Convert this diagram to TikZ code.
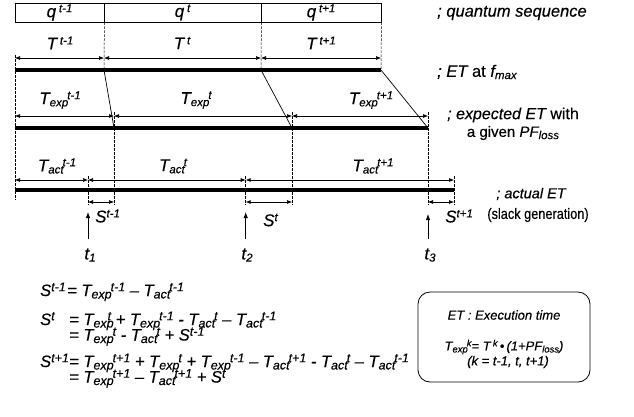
\documentclass[tikz,border=0pt]{standalone}
\usepackage{fontspec}
\setmainfont{Liberation Sans}[FakeBold=0.3]
\usetikzlibrary{arrows.meta}
\newcommand\spx[1]{\raisebox{5pt}{\fontsize{11.5}{11.5}\selectfont #1}}
\newcommand\sbx[1]{\raisebox{-2.2pt}{\fontsize{11.5}{11.5}\selectfont #1}}
\newcommand\esp[1]{\raisebox{4.8pt}{\fontsize{12.5}{12.5}\selectfont #1}}
\newcommand\esb[1]{\raisebox{-2.5pt}{\fontsize{12.5}{12.5}\selectfont #1}}
\newcommand\bsp[1]{\raisebox{4pt}{\fontsize{9.5}{9.5}\selectfont #1}}
\newcommand\bsb[1]{\raisebox{-2pt}{\fontsize{9.5}{9.5}\selectfont #1}}
\newcommand\Te[1]{T\esb{exp}\hspace{-1pt}\esp{#1}}
\newcommand\Ta[1]{T\esb{act}\hspace{-1pt}\esp{#1}}
\begin{document}
\begin{tikzpicture}[x=1pt,y=-1pt,
  dim/.style={{Latex[length=5pt,width=4pt]}-{Latex[length=5pt,width=4pt]}, line width=0.6pt},
  uparr/.style={-{Latex[length=6pt,width=4.5pt]}, line width=0.8pt},
  bar/.style={line width=4pt},
  guide/.style={dash pattern=on 2.5pt off 1.5pt, line width=0.5pt},
  slant/.style={line width=0.7pt},
  lab/.style={font=\fontsize{17}{20}\selectfont\itshape, inner sep=0pt},
  side/.style={inner sep=0pt},
  eq/.style={font=\fontsize{16.5}{18}\selectfont\itshape, inner sep=0pt, anchor=base west},
  qbox/.style={draw, line width=0.8pt, minimum height=19pt, inner sep=0pt, lab},
  defbox/.style={draw, line width=0.8pt, rounded corners=12pt, minimum width=172pt, minimum height=90pt},
  boxtxt/.style={font=\fontsize{13}{15}\selectfont\itshape, inner sep=0pt}
]
\useasboundingbox (0,0) rectangle (634,416);
% quantum sequence
\node[qbox, minimum width=89pt] (q1) at (59.5,12.5) {q\,\spx{t-1}};
\node[qbox, minimum width=157pt] (q2) at (182.5,12.5) {q\,\spx{t}};
\node[qbox, minimum width=120pt] (q3) at (321,12.5) {q\,\spx{t+1}};
% coordinates
\coordinate (T0) at (15,58); \coordinate (T1) at (104,58);
\coordinate (T2) at (261,58); \coordinate (T3) at (381,58);
\coordinate (B0) at (15,70); \coordinate (B1) at (104,70);
\coordinate (B2) at (261,70); \coordinate (B3) at (381,70);
\coordinate (E0) at (15,116); \coordinate (E1) at (114,116);
\coordinate (E2) at (292,116); \coordinate (E3) at (428,116);
\coordinate (F0) at (15,128); \coordinate (F1) at (114,128);
\coordinate (F2) at (292,128); \coordinate (F3) at (428,128);
\coordinate (A0) at (15,180); \coordinate (A1) at (88,180);
\coordinate (A2) at (245.7,180); \coordinate (A3) at (454,180);
\coordinate (G0) at (15,190); \coordinate (G3) at (454,190);
\coordinate (S1a) at (88,202); \coordinate (S1b) at (114,202);
\coordinate (S2a) at (245.7,202); \coordinate (S2b) at (292,202);
\coordinate (S3a) at (428,202); \coordinate (S3b) at (454,202);
% guides
\draw[guide] (15,55) -- (15,200);
\draw[guide] (q1.south east) -- (B1);
\draw[guide] (q2.south east) -- (B2);
\draw[guide] (q3.south east) -- (B3);
\foreach \x in {114,292,428} \draw[guide] (\x,112) -- (\x,205);
\foreach \x in {88,245.7,454} \draw[guide] (\x,176) -- (\x,205);
% T row
\draw[dim] (T0) -- (T1); \draw[dim] (T1) -- (T2); \draw[dim] (T2) -- (T3);
\draw[bar] (B0) -- (B3);
\node[lab] (LT1) at (60,43) {T\,\spx{t-1}};
\node[lab] (LT2) at (182,43) {T\,\spx{t}};
\node[lab] (LT3) at (321,43) {T\,\spx{t+1}};
% slants
\draw[slant] (B1) -- (F1); \draw[slant] (B2) -- (F2); \draw[slant] (B3) -- (F3);
% Texp row
\draw[dim] (E0) -- (E1); \draw[dim] (E1) -- (E2); \draw[dim] (E2) -- (E3);
\draw[bar] (F0) -- (F3);
\node[lab] (LE1) at (60,100) {T\sbx{exp}\hspace{-1pt}\spx{t-1}};
\node[lab] (LE2) at (196,100) {T\sbx{exp}\hspace{-1pt}\spx{t}};
\node[lab] (LE3) at (371,100) {T\sbx{exp}\hspace{-1pt}\spx{t+1}};
% Tact row
\draw[dim] (A0) -- (A1); \draw[dim] (A1) -- (A2); \draw[dim] (A2) -- (A3);
\draw[bar] (G0) -- (G3);
\node[lab] (LA1) at (57,166) {T\sbx{act}\hspace{-1pt}\spx{t-1}};
\node[lab] (LA2) at (173,166) {T\sbx{act}\hspace{-1pt}\spx{t}};
\node[lab] (LA3) at (373,166) {T\sbx{act}\hspace{-1pt}\spx{t+1}};
% slack arrows
\draw[dim] (S1a) -- (S1b); \draw[dim] (S2a) -- (S2b); \draw[dim] (S3a) -- (S3b);
\node[lab, anchor=west] (LS1) at (95,216) {S\spx{t-1}};
\node[lab, anchor=west] (LS2) at (263,220) {S\spx{t}};
\node[lab, anchor=west] (LS3) at (445,216) {S\spx{t+1}};
% time points
\coordinate (U1) at (88,239); \coordinate (U2) at (245.7,239); \coordinate (U3) at (428,239);
\draw[uparr] (U1) -- (88,212);
\draw[uparr] (U2) -- (245.7,212);
\draw[uparr] (U3) -- (428,214);
\node[lab] (t1) at (90,255) {t\sbx{1}};
\node[lab] (t2) at (247,255) {t\sbx{2}};
\node[lab] (t3) at (430,255) {t\sbx{3}};
% side labels
\node[side, anchor=west, font=\fontsize{16.5}{20}\selectfont] (s1) at (437,13) {\itshape ; quantum sequence};
\node[side, anchor=west, font=\fontsize{16.5}{20}\selectfont] (s2) at (437,72) {\itshape ; ET\upshape\ at \itshape f\sbx{max}};
\node[side, anchor=west, font=\fontsize{16}{19}\selectfont] (s3) at (447,115) {\itshape ; expected ET\upshape\ with};
\node[side, font=\fontsize{15}{18}\selectfont] (s4) at (513,133) {a given \itshape PF\sbx{loss}};
\node[side, font=\fontsize{14.5}{17}\selectfont] (s5) at (531,194) {\itshape ; actual ET};
\node[side, font=\fontsize{15}{18}\selectfont] (s6) at (538,215) {\scalebox{0.85}[1]{(slack generation)}};
% equations
\node[eq] (e1l) at (40,296) {S\esp{t-1}};
\node[eq] (e1r) at (67,296) {= \Te{t-1} – \Ta{t-1}};
\node[eq] (e2l) at (40,325) {S\esp{t}};
\node[eq] (e2r) at (69,325) {= T\esb{exp}\hspace{-6pt}\esp{t} + \Te{t-1} - \Ta{t} – \Ta{t-1}};
\node[eq] (e2s) at (69,340.5) {= \Te{t} - \Ta{t} + S\esp{t-1}};
\node[eq] (e3l) at (40,367) {S\esp{t+1}};
\node[eq] (e3r) at (69,367) {= \Te{t+1} + \Te{t} + \Te{t-1} – \Ta{t+1} - \Ta{t} – \Ta{t-1}};
\node[eq] (e3s) at (69,382.5) {= \Te{t+1} – \Ta{t+1} + S\esp{t}};
% definition box
\node[defbox] (def) at (504,337) {};
\node[boxtxt] (d1) at (504,315) {ET : Execution time};
\node[boxtxt] (d2) at (504,347) {T\bsb{exp}\hspace{-1pt}\bsp{k}= T\,\bsp{k}\,•\,(1+PF\bsb{loss})};
\node[boxtxt] (d3) at (508,362) {(k = t-1, t, t+1)};
\end{tikzpicture}
\end{document}
